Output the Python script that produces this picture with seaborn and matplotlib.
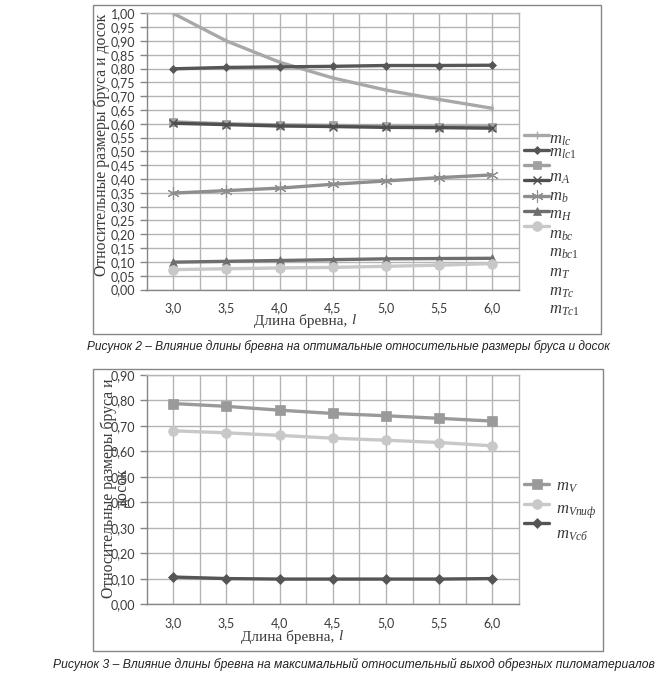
import numpy as np
import pandas as pd
import matplotlib
matplotlib.use("Agg")
import matplotlib.pyplot as plt
import seaborn as sns
from matplotlib.patches import Rectangle
from matplotlib.lines import Line2D

# ---------------- data ----------------
lengths = [3.0, 3.5, 4.0, 4.5, 5.0, 5.5, 6.0]
x_tick_labels = ["3,0", "3,5", "4,0", "4,5", "5,0", "5,5", "6,0"]

# Figure 2 series
m_lc = [1.000, 0.900, 0.823, 0.766, 0.722, 0.688, 0.656]
m_lc1 = [0.799, 0.804, 0.806, 0.808, 0.811, 0.811, 0.812]
m_sq = [0.607, 0.600, 0.596, 0.594, 0.591, 0.590, 0.589]
m_A = [0.602, 0.597, 0.592, 0.590, 0.587, 0.586, 0.584]
m_b = [0.349, 0.358, 0.367, 0.381, 0.393, 0.405, 0.415]
m_H = [0.099, 0.102, 0.105, 0.108, 0.111, 0.112, 0.113]
m_bc = [0.072, 0.075, 0.078, 0.080, 0.084, 0.088, 0.094]
legend1_labels = [r"$m_{lc}$", r"$m_{lc1}$", r"$m_A$", r"$m_b$", r"$m_H$",
                  r"$m_{bc}$", r"$m_{bc1}$", r"$m_T$", r"$m_{Tc}$", r"$m_{Tc1}$"]

# Figure 3 series
m_V = [0.788, 0.777, 0.762, 0.749, 0.740, 0.730, 0.719]
m_Vpif = [0.681, 0.673, 0.663, 0.652, 0.644, 0.635, 0.622]
m_Vsb = [0.107, 0.101, 0.099, 0.099, 0.099, 0.099, 0.101]
legend2_labels = [r"$m_V$", r"$m_{Vпиф}$", r"$m_{Vсб}$"]

y1_ticks = [round(0.05 * i, 2) for i in range(21)]
y2_ticks = [round(0.10 * i, 2) for i in range(10)]

ylabel_text = "Относительные размеры бруса и досок"
ylabel2_text = "Относительные размеры бруса и\nдосок"
caption1 = "Рисунок 2 – Влияние длины бревна на оптимальные относительные размеры бруса и досок"
caption2 = "Рисунок 3 – Влияние длины бревна на максимальный относительный выход обрезных пиломатериалов"

# ---------------- styles ----------------
sns.set_style("white")
plt.rcParams["font.family"] = ["Lato", "DejaVu Sans"]
plt.rcParams["mathtext.fontset"] = "custom"
plt.rcParams["mathtext.it"] = "Liberation Serif:italic"
plt.rcParams["mathtext.rm"] = "Liberation Serif"

series1 = [
    (m_lc, dict(color="#a8a8a8", marker="|", ms=6, mew=1.0)),
    (m_lc1, dict(color="#565656", marker="D", ms=4.5, mew=0.5)),
    (m_sq, dict(color="#a0a0a0", marker="s", ms=6, mew=0.5)),
    (m_A, dict(color="#4f4f4f", marker="x", ms=6, mew=1.0)),
    (m_b, dict(color="#8e8e8e", marker=(6, 2, 0), ms=9, mew=0.8)),
    (m_H, dict(color="#6e6e6e", marker="^", ms=6, mew=0.5)),
    (m_bc, dict(color="#c8c8c8", marker="o", ms=7, mew=0.5)),
]
series2 = [
    (m_V, dict(color="#9a9a9a", marker="s", ms=6.5, mew=0.5)),
    (m_Vpif, dict(color="#c8c8c8", marker="o", ms=7, mew=0.5)),
    (m_Vsb, dict(color="#555555", marker="D", ms=5, mew=0.5)),
]

W, H = 660, 681
fig = plt.figure(figsize=(W / 100, H / 100), dpi=100)

GRID = "#b4b4b4"
AXC = "#868686"
TXT = "#3a3a3a"


def fx(px):
    return px / W


def fy(py):
    return 1 - py / H


def style_axes(ax, yticks, ymax):
    ax.set_xlim(2.75, 6.25)
    ax.set_ylim(0, ymax)
    ax.set_xticks(lengths)
    ax.set_xticklabels(x_tick_labels)
    ax.set_xticks([l + 0.25 for l in lengths[:-1]], minor=True)
    ax.set_yticks(yticks)
    ax.set_yticklabels([f"{v:.2f}".replace(".", ",") for v in yticks])
    ax.grid(True, which="both", axis="x", color=GRID, lw=1.0)
    ax.grid(True, which="major", axis="y", color=GRID, lw=1.0)
    ax.set_axisbelow(True)
    for s in ["top", "right"]:
        ax.spines[s].set_color(GRID)
        ax.spines[s].set_linewidth(1.0)
    for s in ["left", "bottom"]:
        ax.spines[s].set_color(AXC)
        ax.spines[s].set_linewidth(1.0)
    ax.tick_params(axis="y", which="major", length=5, width=1, color=AXC,
                   direction="out", pad=3, labelsize=9, labelcolor=TXT, left=True)
    ax.tick_params(axis="x", which="both", length=0, pad=9, labelsize=9, labelcolor=TXT)
    ax.set_xlabel("")
    ax.set_ylabel("")


def draw(ax, series):
    for vals, st in series:
        sns.lineplot(x=lengths, y=vals, ax=ax, color=st["color"], lw=2.4,
                     marker=st["marker"], markersize=st["ms"], markeredgewidth=st["mew"],
                     markeredgecolor=st["color"], markerfacecolor=st["color"], legend=False)


def handles_for(series):
    return [Line2D([], [], color=st["color"], lw=2.4, marker=st["marker"], markersize=st["ms"],
                   markeredgewidth=st["mew"], markeredgecolor=st["color"],
                   markerfacecolor=st["color"]) for _, st in series]


# ---------- chart 1 ----------
fig.add_artist(Rectangle((fx(93), fy(334)), fx(601) - fx(93), fy(5) - fy(334),
                         transform=fig.transFigure, fill=False, ec=AXC, lw=1.0))
ax1 = fig.add_axes([fx(146.5), fy(289.5), fx(519) - fx(146.5), fy(13.3) - fy(289.5)])
draw(ax1, series1)
style_axes(ax1, y1_ticks, 1.0)
fig.text(fx(102), fy(145), ylabel_text, rotation=90, ha="center", va="center",
         family="Liberation Serif", fontsize=11.3, color=TXT)
fig.text(fx(351), fy(321), "Длина бревна, ", ha="right", va="center",
         family="Liberation Serif", fontsize=11, color=TXT)
fig.text(fx(351), fy(321), "l", ha="left", va="center", style="italic",
         family="Liberation Serif", fontsize=11, color=TXT)

leg1 = fig.legend(handles=handles_for(series1), labels=[""] * len(series1),
                  loc="upper left", bbox_to_anchor=(fx(524), fy(130)),
                  frameon=False, fontsize=8, handlelength=2.25, handletextpad=0,
                  borderpad=0, borderaxespad=0, labelspacing=0.37)
lab1_y = [140, 153, 178, 197, 215, 235, 253, 273, 292, 310]
for lab, yy in zip(legend1_labels, lab1_y):
    fig.text(fx(549), fy(yy), lab, ha="left", va="center", fontsize=12, color=TXT)

fig.text(fx(348), fy(347), caption1, ha="center", va="center", style="italic",
         family="Liberation Sans", fontsize=8.6, color="#222222")

# ---------- chart 2 ----------
fig.add_artist(Rectangle((fx(93), fy(651)), fx(603) - fx(93), fy(369) - fy(651),
                         transform=fig.transFigure, fill=False, ec=AXC, lw=1.0))
ax2 = fig.add_axes([fx(146.5), fy(604.3), fx(519) - fx(146.5), fy(375) - fy(604.3)])
draw(ax2, series2)
style_axes(ax2, y2_ticks, 0.9)
fig.text(fx(116), fy(488), ylabel2_text, rotation=90, ha="center", va="center",
         multialignment="center", linespacing=0.85,
         family="Liberation Serif", fontsize=11.3, color=TXT)
fig.text(fx(338), fy(637), "Длина бревна, ", ha="right", va="center",
         family="Liberation Serif", fontsize=11, color=TXT)
fig.text(fx(338), fy(637), "l", ha="left", va="center", style="italic",
         family="Liberation Serif", fontsize=11, color=TXT)

leg2 = fig.legend(handles=handles_for(series2), labels=[""] * len(series2),
                  loc="upper left", bbox_to_anchor=(fx(524), fy(479)),
                  frameon=False, fontsize=8, handlelength=2.25, handletextpad=0,
                  borderpad=0, borderaxespad=0, labelspacing=0.78)
lab2_y = [487, 512, 535]
for lab, yy in zip(legend2_labels, lab2_y):
    fig.text(fx(556), fy(yy), lab, ha="left", va="center", fontsize=12, color=TXT)

fig.text(fx(354), fy(664), caption2, ha="center", va="center", style="italic",
         family="Liberation Sans", fontsize=8.7, color="#222222")

fig.savefig("out.png", dpi=100, facecolor="white")
